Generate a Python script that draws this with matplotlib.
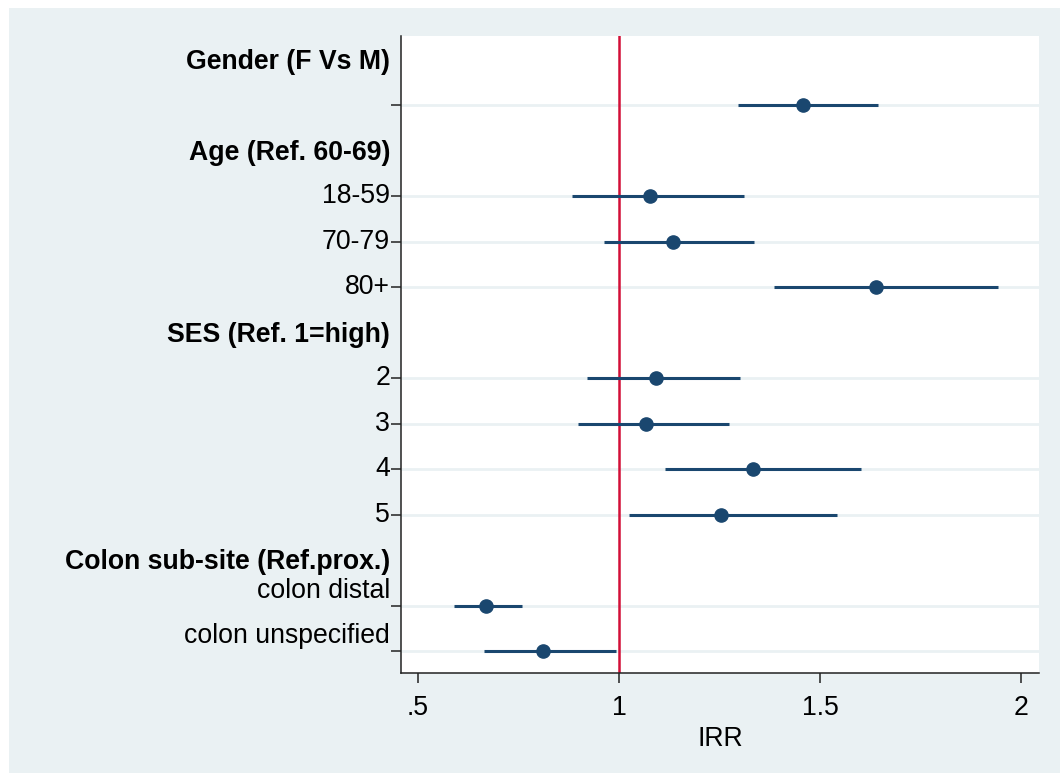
import matplotlib.pyplot as plt
import matplotlib.transforms as mtransforms
from matplotlib.patches import Rectangle

plt.rcParams['font.family'] = ['Liberation Sans', 'DejaVu Sans']

# rows from top to bottom (None = group header)
headers = ["Gender (F Vs M)", "Age (Ref. 60-69)", "SES (Ref. 1=high)", "Colon sub-site (Ref.prox.)"]
header_rows = [0, 2, 6, 11]
labels = ["", "18-59", "70-79", "80+", "2", "3", "4", "5", "colon distal", "colon unspecified"]
rows = [1, 3, 4, 5, 7, 8, 9, 10, 12, 13]
irr = [1.459, 1.076, 1.134, 1.640, 1.092, 1.068, 1.334, 1.255, 0.668, 0.810]
lo = [1.296, 0.884, 0.963, 1.386, 0.921, 0.899, 1.114, 1.024, 0.589, 0.663]
hi = [1.644, 1.310, 1.336, 1.944, 1.300, 1.273, 1.603, 1.543, 0.758, 0.992]
xticks = [0.5, 1, 1.5, 2]
xticklabels = [".5", "1", "1.5", "2"]

navy = "#1A476F"
bg = "#EAF1F3"
fs = 19.2

fig = plt.figure(figsize=(10.6, 7.73), dpi=100)
fig.patch.set_facecolor("white")
fig.patches.append(Rectangle((9 / 1060, 0), 1, 1 - 8 / 773, transform=fig.transFigure,
                             facecolor=bg, edgecolor="none", zorder=-10))

ax = fig.add_axes([401 / 1060, 1 - 673 / 773, 638 / 1060, 637 / 773])
ax.set_facecolor("white")

# grid at data rows
for r in rows:
    ax.axhline(r, color=bg, lw=2, zorder=1)

ax.axvline(1, color="#D20F37", lw=1.8, zorder=2)
ax.hlines(rows, lo, hi, color=navy, lw=2.2, zorder=3)
ax.plot(irr, rows, "o", color=navy, ms=9.5, zorder=4)

ax.set_xlim(0.4577, 2.045)
ax.set_ylim(13.484, -0.528)

ax.spines["top"].set_visible(False)
ax.spines["right"].set_visible(False)
for s in ["left", "bottom"]:
    ax.spines[s].set_linewidth(1.1)
    ax.spines[s].set_color("#222222")

ax.set_xticks(xticks)
ax.set_xticklabels(xticklabels, fontsize=fs)
ax.tick_params(axis="x", length=7.5, width=1.1, color="#222222", pad=8)
ax.set_xlabel("IRR", fontsize=fs, labelpad=4)

ax.set_yticks(rows)
ax.set_yticklabels([])
ax.tick_params(axis="y", length=7.5, width=1.1, color="#222222")

trans = mtransforms.blended_transform_factory(ax.transAxes, ax.transData)
xt = -11 / 638
for lab, r in zip(labels, rows):
    y = r
    if lab.startswith("colon"):
        y = r - 0.33
    ax.text(xt, y, lab, transform=trans, ha="right", va="center", fontsize=fs)
for h, r in zip(headers, header_rows):
    ax.text(xt, r + 0.04, h, transform=trans, ha="right", va="center", fontsize=fs, fontweight="bold")

fig.savefig("out.png", dpi=100, facecolor=fig.get_facecolor())
